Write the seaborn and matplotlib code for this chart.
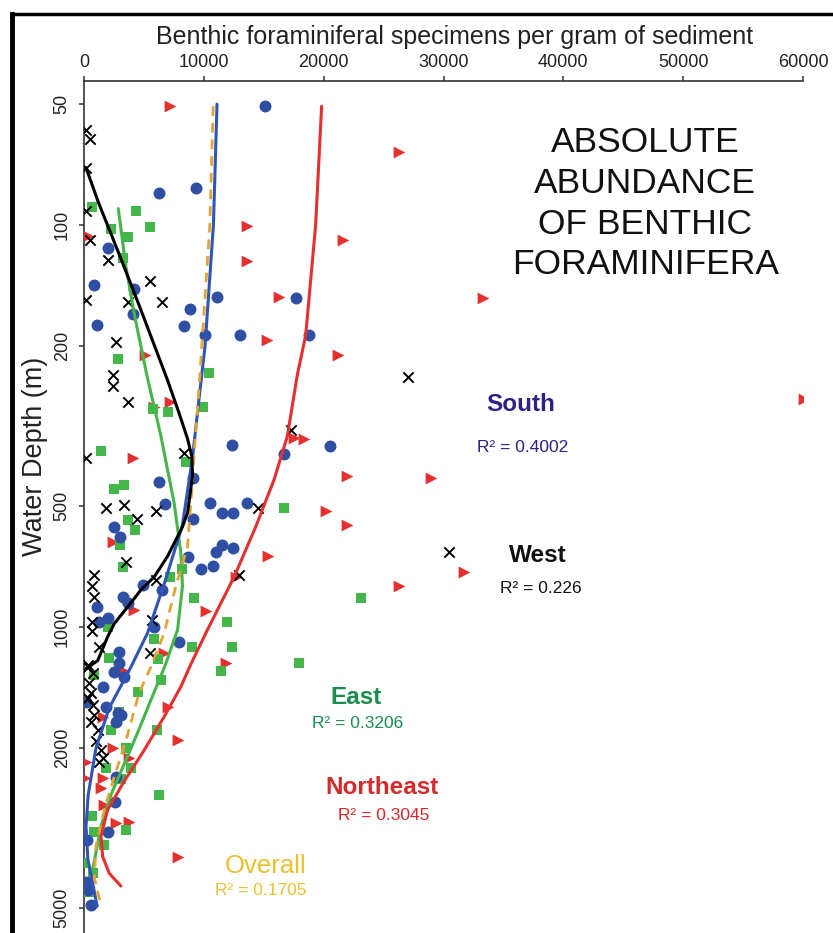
import numpy as np
import pandas as pd
import seaborn as sns
import matplotlib.pyplot as plt
from matplotlib.lines import Line2D

# ---------------------------------------------------------------- data
# specimens per gram (x) against water depth in metres (y)
south_value = [15100, 6280, 9330, 2030, 860, 4200, 4050, 1080, 11140, 8860, 8360, 10110,
               13030, 17700, 18750, 12330, 16690, 20530, 6280, 6750, 10530, 11500, 12440,
               13640, 9110, 9110, 2470, 3000, 11500, 11000, 12440, 8690, 9750, 10780, 4890,
               6470, 3220, 3640, 1080, 1970, 1280, 5800, 7940, 2890, 2940, 2530, 3300, 1560,
               170, 1830, 2810, 3080, 2670, 2670, 2610, 1970, 250, 170, 300, 580]
south_depth = [50.6, 83, 81, 114, 141, 144, 166, 177, 151, 162, 178, 188,
               188, 152, 188, 353, 371, 354, 435, 494, 492, 519, 519,
               492, 425, 540, 563, 598, 625, 652, 635, 671, 717, 704, 786,
               809, 840, 873, 890, 952, 969, 1001, 1088, 1156, 1229, 1291, 1330, 1408,
               1534, 1578, 1639, 1655, 1720, 2357, 2720, 3229, 3388, 4300, 4510, 4915]

west_value = [170, 530, 170, 170, 500, 1970, 170, 3700, 5530, 6500, 2670, 2390, 2450, 3640,
              27000, 17250, 170, 8360, 1830, 3300, 6000, 4390, 14560, 3500, 12940, 6000,
              30500, 810, 640, 810, 640, 640, 5670, 1280, 5530, 360, 300, 720, 440, 580,
              300, 720, 860, 580, 1140, 1000, 1420, 1560, 1280]
west_depth = [58, 61, 72, 92, 109, 122, 154, 155, 138, 155, 195, 236, 251, 275,
              239, 324, 379, 370, 507, 497, 514, 539, 507, 688, 743, 764,
              650, 743, 789, 841, 973, 1021, 961, 1120, 1163, 1244, 1255, 1303, 1380, 1455,
              1505, 1563, 1655, 1720, 1803, 1916, 2023, 2123, 2172]

east_value = [640, 4330, 2250, 5500, 3640, 3220, 2810, 10440, 9890, 5720, 7030, 1420, 8500,
              2530, 3300, 3700, 4250, 3000, 3280, 8170, 7170, 16690, 9140, 23080, 11970,
              12330, 9050, 17940, 5800, 2030, 2110, 6190, 11470, 6420, 860, 4470, 2940,
              6080, 2250, 3500, 1830, 3920, 3080, 6280, 650, 3500, 860, 1690, 30, 720, 30, 440]
east_depth = [90, 92, 102, 101, 107, 121, 215, 233, 284, 286, 292, 365, 388,
              454, 443, 542, 574, 625, 708, 717, 750, 507, 848, 845, 970,
              1120, 1120, 1227, 1071, 998, 1192, 1200, 1285, 1355, 1315, 1448, 1624,
              1802, 1803, 2003, 2245, 2246, 2393, 2618, 2950, 3199, 3229, 3487, 3871, 4100, 4300, 4560]

northeast_value = [7190, 26280, 360, 13580, 21640, 13580, 16280, 33330, 15250, 21220, 5080,
                   5810, 7190, 60080, 17530, 18360, 4060, 21970, 28920, 20170, 21970, 2390,
                   15390, 31700, 26280, 12670, 4190, 10170, 6690, 11830, 3360, 1560, 6970,
                   7810, 2390, 3780, 170, 1560, 80, 1420, 1690, 2670, 3780, 7810]
northeast_depth = [50.6, 65.7, 106.5, 100.6, 109, 123, 151, 152, 193, 210, 210,
                   284, 275, 271, 339, 341, 379, 421, 426, 513, 558, 614,
                   666, 730, 791, 750, 907, 911, 1163, 1227, 1285, 1671, 1578,
                   1910, 2003, 2121, 2172, 2378, 2378, 2519, 2772, 3078, 3048, 3726]

# fitted trend curves, traced as (value, depth) pairs
south_fit_value = [11100, 10800, 10100, 9600, 9050, 8200, 6700, 5300, 3900, 2100, 1000,
                   350, 170, 320, 720, 1100]
south_fit_depth = [50, 100, 200, 270, 380, 560, 780, 1035, 1260, 1590, 2000,
                   2614, 3130, 3780, 4330, 4950]

west_fit_value = [170, 1190, 3120, 4730, 6970, 7940, 8640, 9000, 9060, 8640, 8220, 6970,
                  5860, 4750, 3920, 2530, 1970, 1140, 250]
west_fit_depth = [72, 87.6, 122, 162, 243, 294, 340, 376, 420, 520, 563, 667,
                  750, 808, 870, 980, 1058, 1212, 1265]

east_fit_value = [2860, 3500, 4190, 5240, 6420, 7530, 8080, 8220, 7810, 6800, 5580, 4470,
                  3360, 2250, 1420, 860, 600]
east_fit_depth = [91, 127, 166, 236, 335, 493, 654, 790, 1015, 1240, 1520, 1833,
                  2190, 2614, 3133, 3826, 4150]

northeast_fit_value = [19830, 19330, 18500, 17800, 16970, 15860, 14330, 12530, 10310, 8900,
                       8080, 6690, 5030, 3360, 1970, 1420, 1560, 2110, 3080]
northeast_fit_depth = [50.6, 100, 188, 236, 335, 430, 563, 750, 1015, 1240,
                       1408, 1671, 2023, 2417, 2850, 3310, 3726, 4100, 4409]

overall_fit_value = [10780, 10500, 9830, 9500, 9190, 9060, 8640, 7670, 6690, 5600, 4610,
                     3500, 2530, 1690, 1000, 860, 1400]
overall_fit_depth = [50.6, 100, 200, 280, 370, 430, 630, 790, 1035, 1254, 1455,
                     1916, 2357, 2850, 3507, 4200, 4900]

x_ticks = [0, 10000, 20000, 30000, 40000, 50000, 60000]
y_ticks = [50, 100, 200, 500, 1000, 2000, 5000]

region_labels = ["South", "West", "East", "Northeast", "Overall"]
r_squared = ["0.4002", "0.226", "0.3206", "0.3045", "0.1705"]

# ---------------------------------------------------------------- style
sns.set_theme(style="white")
plt.rcParams['font.family'] = ['Liberation Sans', 'DejaVu Sans']

C_BLUE = "#2f4fa2"
C_BLUE_LINE = "#2f55b8"
C_GREEN = "#45b649"
C_RED = "#e4302f"
C_ORANGE = "#e2a436"
LABEL_COLORS = ["#2e2085", "#111111", "#1a8c4e", "#d42a2a", "#e8c030"]

W, H = 833, 933
fig = plt.figure(figsize=(W / 100, H / 100), dpi=100)
ax = fig.add_axes([84 / W, 0, 719 / W, (H - 81) / H])
ax.set_yscale("log")

# ---------------------------------------------------------------- points
sns.scatterplot(x=northeast_value, y=northeast_depth, marker=">", s=72,
                color=C_RED, linewidth=0, ax=ax, zorder=3)
sns.scatterplot(x=east_value, y=east_depth, marker="s", s=55,
                color=C_GREEN, linewidth=0, ax=ax, zorder=3)
sns.scatterplot(x=south_value, y=south_depth, marker="o", s=74,
                color=C_BLUE, linewidth=0, ax=ax, zorder=3)
sns.scatterplot(x=west_value, y=west_depth, marker="x", s=55,
                color="black", linewidth=1.4, ax=ax, zorder=4)

# ---------------------------------------------------------------- trend curves
def curve(xv, yv, **kw):
    sns.lineplot(x=xv, y=yv, sort=False, estimator=None, ax=ax, **kw)

curve(east_fit_value, east_fit_depth, color=C_GREEN, lw=2.2, zorder=5)
curve(northeast_fit_value, northeast_fit_depth, color=C_RED, lw=2.2, zorder=5)
curve(south_fit_value, south_fit_depth, color=C_BLUE_LINE, lw=2.2, zorder=5)
curve(overall_fit_value, overall_fit_depth, color=C_ORANGE, lw=2.0,
      ls=(0, (3.5, 2.5)), zorder=6)
curve(west_fit_value, west_fit_depth, color="black", lw=2.2, zorder=6)

# ---------------------------------------------------------------- axes
ax.set_xlim(0, 60000)
ax.set_ylim(5770, 43.8)
ax.xaxis.tick_top()
ax.set_xticks(x_ticks)
ax.set_xticklabels([str(v) for v in x_ticks])
ax.set_yticks(y_ticks)
ax.set_yticklabels([str(v) for v in y_ticks])
ax.yaxis.set_minor_locator(plt.NullLocator())
ax.tick_params(axis="x", which="major", top=True, bottom=False, direction="out",
               length=3.5, width=1.1, color="#333333", labelsize=13, pad=3.5,
               labelcolor="#222222")
ax.tick_params(axis="y", which="major", left=True, direction="out",
               length=3.5, width=1.1, color="#333333", labelsize=13, pad=6,
               labelrotation=90, labelcolor="#222222")
for lab in ax.get_yticklabels():
    lab.set_va("center")

for side in ("right", "bottom"):
    ax.spines[side].set_visible(False)
for side in ("top", "left"):
    ax.spines[side].set_color("#333333")
    ax.spines[side].set_linewidth(1.2)

ax.xaxis.set_label_position("top")
ax.set_xlabel("Benthic foraminiferal specimens per gram of sediment",
              fontsize=18, color="#222222")
ax.xaxis.set_label_coords(0.515, 1.0516)
ax.xaxis.label.set_va("center")

fig.text(35 / W, 1 - 456 / H, "Water Depth (m)", rotation=90, fontsize=19.5,
         ha="center", va="center", color="#222222")

# ---------------------------------------------------------------- annotations
ax.text(46830, 88.5, "ABSOLUTE\nABUNDANCE\nOF BENTHIC\nFORAMINIFERA",
        ha="center", va="center", fontsize=25.5, linespacing=1.3, color="#111111")

name_pos = [(36420, 280), (37830, 662), (22725, 1496), (24890, 2509), (15170, 3932)]
r2_pos = [(36580, 357), (38130, 800), (22860, 1736), (25030, 2951), (14750, 4512)]
for name, r2, col, (nx, ny), (rx, ry) in zip(region_labels, r_squared, LABEL_COLORS,
                                            name_pos, r2_pos):
    ax.text(nx, ny, name, ha="center", va="center", color=col,
            fontsize=18.5 if name == "Overall" else 17.5,
            fontweight="normal" if name == "Overall" else "bold")
    ax.text(rx, ry, "R\u00b2 = " + r2, ha="center", va="center", color=col, fontsize=12.5)

# ---------------------------------------------------------------- outer frame
fig.add_artist(Line2D([12 / W, 12 / W], [-0.01, 1 - 13.5 / H], transform=fig.transFigure,
                      color="black", lw=3.5, solid_capstyle="projecting"))
fig.add_artist(Line2D([12 / W, 1.01], [1 - 13.5 / H, 1 - 13.5 / H], transform=fig.transFigure,
                      color="black", lw=2.5, solid_capstyle="projecting"))

fig.savefig("out.png", dpi=100, facecolor="white")
